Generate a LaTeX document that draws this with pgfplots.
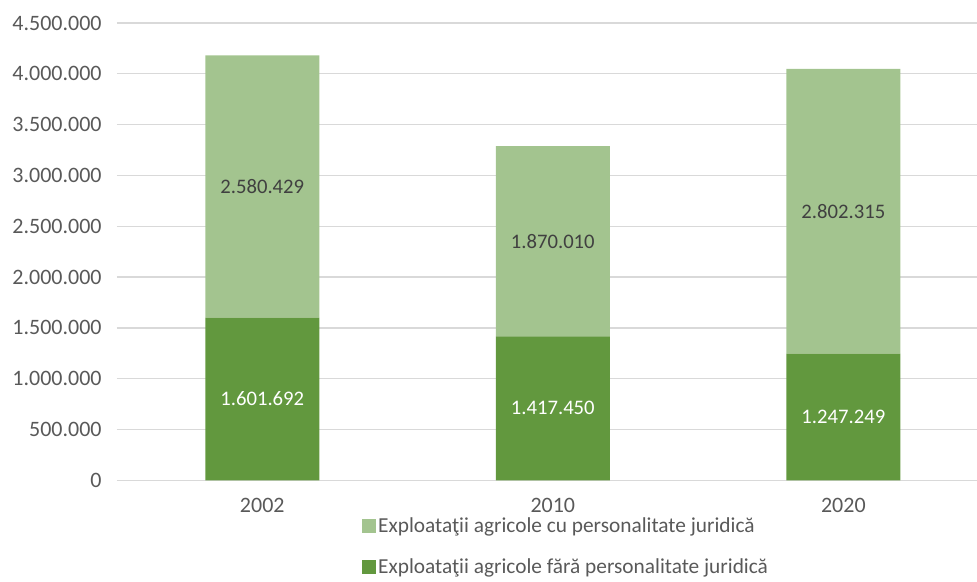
\documentclass[border=0pt]{standalone}
\usepackage{pgfplots}
\pgfplotsset{compat=1.18}
\usepackage{fontspec}
\setmainfont{Carlito}
\definecolor{darkg}{HTML}{62983E}
\definecolor{lightg}{HTML}{A3C48F}
\definecolor{txt}{HTML}{595959}
\definecolor{grid}{HTML}{D9D9D9}
\begin{document}
\begin{tikzpicture}
\path[use as bounding box] (-87.75pt,-75.75pt) rectangle (645pt,360.25pt);
\begin{axis}[
  at={(0,0)}, anchor=south west,
  scale only axis, width=645pt, height=343pt,
  ybar stacked, bar width=85.5pt,
  xmin=-0.5, xmax=2.46, ymin=0, ymax=4500000,
  xtick={0,1,2}, xticklabels={2002,2010,2020},
  ytick={0,500000,...,4500000},
  scaled y ticks=false,
  /pgf/number format/.cd, fixed, 1000 sep={.}, assume math mode=true, /pgfplots/.cd,
  major tick length=0pt,
  axis y line*=left, axis x line*=bottom,
  y axis line style={draw=none},
  x axis line style={draw=grid, line width=1pt},
  ymajorgrids, grid style={draw=grid, line width=1pt},
  tick label style={font=\fontsize{16.5}{19}\selectfont, text=txt},
  yticklabel style={xshift=-8pt},
  xticklabel style={yshift=-10pt},
  clip=false,
  legend style={at={(rel axis cs:0.284,-0.075)}, anchor=north west, draw=none, fill=none,
    font=\fontsize{16}{19}\selectfont, text=txt, legend cell align=left,
    row sep=14pt, inner sep=0pt},
  legend image code/.code={\fill[#1] (0pt,-5.3pt) rectangle (10.5pt,5.2pt);},
  reverse legend,
]
\addplot[fill=darkg, draw=none] coordinates {(0,1601692) (1,1417450) (2,1247249)};
\addlegendentry{Exploataţii agricole fără personalitate juridică}
\addplot[fill=lightg, draw=none] coordinates {(0,2580429) (1,1870010) (2,2802315)};
\addlegendentry{Exploataţii agricole cu personalitate juridică}
\end{axis}
\begin{axis}[
  at={(0,0)}, anchor=south west,
  scale only axis, width=645pt, height=343pt,
  xmin=-0.5, xmax=2.46, ymin=0, ymax=4500000,
  axis lines=none, clip=false,
]
\addplot[draw=none, mark=none, nodes near coords, point meta=explicit symbolic,
  nodes near coords align={center},
  every node near coord/.append style={font=\fontsize{15.5}{18}\selectfont, text=white, anchor=center}]
  coordinates {(0,800846) [1.601.692] (1,708725) [1.417.450] (2,623624.5) [1.247.249]};
\addplot[draw=none, mark=none, nodes near coords, point meta=explicit symbolic,
  nodes near coords align={center},
  every node near coord/.append style={font=\fontsize{15.5}{18}\selectfont, text=black!75, anchor=center}]
  coordinates {(0,2891906.5) [2.580.429] (1,2352455) [1.870.010] (2,2648406.5) [2.802.315]};
\end{axis}
\end{tikzpicture}
\end{document}
